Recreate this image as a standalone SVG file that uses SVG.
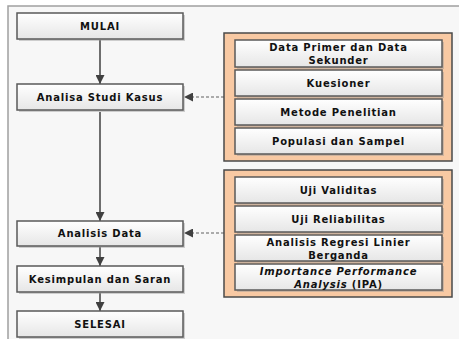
<svg xmlns="http://www.w3.org/2000/svg" width="459" height="339" viewBox="0 0 459 339">
<defs>
<linearGradient id="g" x1="0" y1="0" x2="0" y2="1">
<stop offset="0" stop-color="#ffffff"/>
<stop offset="1" stop-color="#e6e6e6"/>
</linearGradient>
<marker id="ah" viewBox="0 0 10 10" refX="10" refY="5" markerWidth="9" markerHeight="9" markerUnits="userSpaceOnUse" orient="auto">
<path d="M0,0 L10,5 L0,10 Z" fill="#404040"/>
</marker>
</defs>
<style>
.box{fill:url(#g);stroke:#5a5a5a;stroke-width:1.5}
.sh{fill:#9a9a9a;opacity:0.45}
.cont{fill:#f8c9a3;stroke:#4a4a4a;stroke-width:1.5}
.t{font-family:"DejaVu Sans",Verdana,sans-serif;font-weight:bold;font-size:10px;letter-spacing:0.8px;fill:#111111;text-anchor:middle}
.it{font-style:italic}
.ln{stroke:#404040;stroke-width:1.5;fill:none}
.dl{stroke:#606060;stroke-width:1.2;stroke-dasharray:3,2;fill:none}
</style>
<rect x="0" y="0" width="459" height="339" fill="#ffffff"/>
<rect x="8" y="6" width="460" height="345" fill="#f7f7f7" stroke="#a0a0a0" stroke-width="1.5"/>

<g id="conn">
<line class="ln" x1="100" y1="40" x2="100" y2="84" marker-end="url(#ah)"/>
<line class="ln" x1="100" y1="112" x2="100" y2="221" marker-end="url(#ah)"/>
<line class="ln" x1="100" y1="247" x2="100" y2="266" marker-end="url(#ah)"/>
<line class="ln" x1="100" y1="293" x2="100" y2="311" marker-end="url(#ah)"/>
<line class="dl" x1="224" y1="97" x2="184" y2="97" marker-end="url(#ah)"/>
<line class="dl" x1="224" y1="233" x2="184" y2="233" marker-end="url(#ah)"/>
</g>

<g id="mulai">
<rect class="sh" x="19" y="15" width="166" height="26"/>
<rect class="box" x="17" y="13" width="166" height="26"/>
<text class="t" x="100" y="29.5">MULAI</text>
</g>
<g id="analisa">
<rect class="sh" x="19" y="86" width="166" height="26"/>
<rect class="box" x="17" y="84" width="166" height="26"/>
<text class="t" x="100" y="100.5">Analisa Studi Kasus</text>
</g>
<g id="analisis">
<rect class="sh" x="19" y="223" width="166" height="25"/>
<rect class="box" x="17" y="221" width="166" height="25"/>
<text class="t" x="100" y="237">Analisis Data</text>
</g>
<g id="kesimpulan">
<rect class="sh" x="19" y="268" width="166" height="26"/>
<rect class="box" x="17" y="266" width="166" height="26"/>
<text class="t" x="100" y="282.5">Kesimpulan dan Saran</text>
</g>
<g id="selesai">
<rect class="sh" x="19" y="313" width="166" height="26"/>
<rect class="box" x="17" y="311" width="166" height="26"/>
<text class="t" x="100" y="327.5">SELESAI</text>
</g>

<g id="group1">
<rect class="cont" x="224" y="33" width="228" height="128"/>
<g id="data">
<rect class="sh" x="237" y="42" width="207" height="27"/>
<rect class="box" x="235" y="40" width="207" height="27"/>
<text class="t" x="338.5" y="51">Data Primer dan Data</text>
<text class="t" x="338.5" y="63.5">Sekunder</text>
</g>
<g id="kuesioner">
<rect class="sh" x="237" y="72" width="207" height="26"/>
<rect class="box" x="235" y="70" width="207" height="26"/>
<text class="t" x="338.5" y="86.5">Kuesioner</text>
</g>
<g id="metode">
<rect class="sh" x="237" y="101" width="207" height="26"/>
<rect class="box" x="235" y="99" width="207" height="26"/>
<text class="t" x="338.5" y="115.5">Metode Penelitian</text>
</g>
<g id="populasi">
<rect class="sh" x="237" y="130" width="207" height="26"/>
<rect class="box" x="235" y="128" width="207" height="26"/>
<text class="t" x="338.5" y="144.5">Populasi dan Sampel</text>
</g>
</g>

<g id="group2">
<rect class="cont" x="224" y="170" width="228" height="127"/>
<g id="validitas">
<rect class="sh" x="237" y="179" width="207" height="26"/>
<rect class="box" x="235" y="177" width="207" height="26"/>
<text class="t" x="338.5" y="193.5">Uji Validitas</text>
</g>
<g id="reliabilitas">
<rect class="sh" x="237" y="208" width="207" height="26"/>
<rect class="box" x="235" y="206" width="207" height="26"/>
<text class="t" x="338.5" y="222.5">Uji Reliabilitas</text>
</g>
<g id="regresi">
<rect class="sh" x="237" y="237" width="207" height="26"/>
<rect class="box" x="235" y="235" width="207" height="26"/>
<text class="t" x="338.5" y="246">Analisis Regresi Linier</text>
<text class="t" x="338.5" y="258.5">Berganda</text>
</g>
<g id="ipa">
<rect class="sh" x="237" y="266" width="207" height="26"/>
<rect class="box" x="235" y="264" width="207" height="26"/>
<text class="t it" x="338.5" y="275">Importance Performance</text>
<text class="t" x="338.5" y="287.5"><tspan class="it">Analysis</tspan> (IPA)</text>
</g>
</g>
</svg>
